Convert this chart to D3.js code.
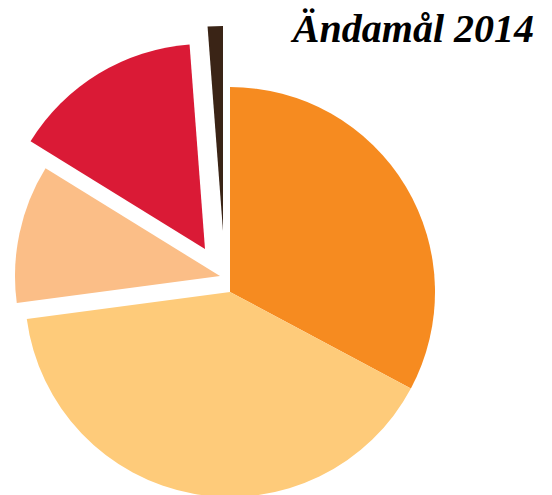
<!DOCTYPE html>
<html>
<head>
<meta charset="utf-8">
<script src="https://cdn.jsdelivr.net/npm/d3@7"></script>
<style>
  body { margin: 0; background: #fff; }
  svg { display: block; }
</style>
</head>
<body>
<svg class="chart"></svg>
<script>
// categories + share in percent, clockwise from 12 o'clock
var categories = ["Kategori 1", "Kategori 2", "Kategori 3", "Kategori 4", "Kategori 5"];
var values = [32.8, 40.1, 10.9, 15.0, 1.2];
var colors = ["#f68b20", "#fecb7a", "#fbbe87", "#da1a36", "#3a2416"];
var title = "Ändamål 2014";

var width = 552, height = 495
  , cx = 230, cy = 292
  , radius = 205;

// how far each slice is pulled out of the pie (px)
var explode = [[0, 0], [0, 0], [-10, -16], [-25, -43], [-7, -61]];

var svg = d3.select(".chart")
    .attr("width", width)
    .attr("height", height);

var data = categories.map((c, i) => ({ name: c, value: values[i], i: i }));

var pie = d3.pie()
    .sort(null)
    .value(d => d.value);

var arc = d3.arc()
    .innerRadius(0)
    .outerRadius(radius);

var g = svg.append("g")
    .attr("transform", "translate(" + cx + "," + cy + ")");

g.selectAll("path.slice")
    .data(pie(data))
    .enter().append("path")
    .attr("class", "slice")
    .attr("fill", d => colors[d.data.i])
    .attr("transform", d => "translate(" + explode[d.data.i][0] + "," + explode[d.data.i][1] + ")")
    .attr("d", arc);

svg.append("text")
    .attr("x", 534)
    .attr("y", 42)
    .attr("text-anchor", "end")
    .style("font-family", "'Liberation Serif', 'DejaVu Serif', serif")
    .style("font-weight", "bold")
    .style("font-style", "italic")
    .style("font-size", "40px")
    .attr("fill", "#000")
    .text(title);
</script>
</body>
</html>
